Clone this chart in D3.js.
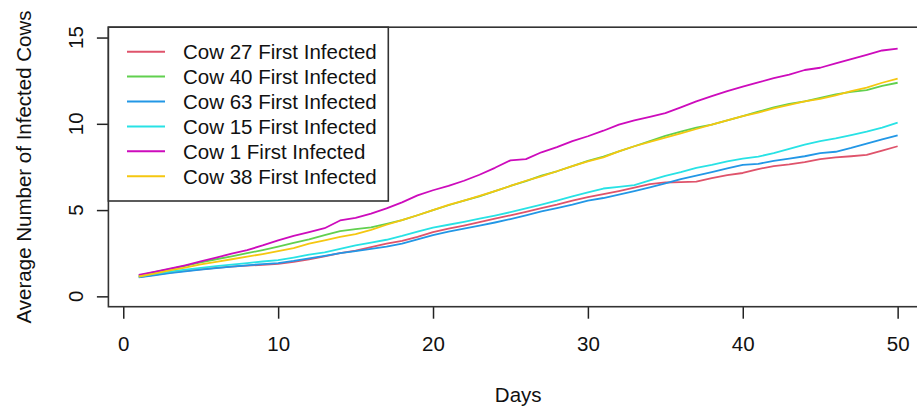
<!DOCTYPE html>
<html>
<head>
<meta charset="utf-8">
<script src="https://cdn.jsdelivr.net/npm/d3@7"></script>
<style>
  html, body { margin: 0; padding: 0; background: #fff; }
  svg { display: block; }
  text { font-family: "Liberation Sans", Arial, Helvetica, sans-serif; fill: #111; }
</style>
</head>
<body>
<svg id="chart" width="917" height="409"></svg>
<script>
// Days 1..50
const days = d3.range(1, 51);

// Average number of infected cows per day, by index cow
const cow27 = [1.12,1.25,1.37,1.48,1.57,1.65,1.72,1.78,1.83,1.88,
               2.00,2.15,2.32,2.50,2.65,2.85,3.05,3.22,3.45,3.72,
               3.92,4.10,4.30,4.50,4.70,4.90,5.12,5.32,5.55,5.75,
               5.92,6.10,6.30,6.50,6.60,6.62,6.65,6.85,7.02,7.15,
               7.38,7.55,7.65,7.78,7.95,8.05,8.12,8.20,8.45,8.70];
const cow40 = [1.20,1.40,1.58,1.77,1.97,2.15,2.32,2.50,2.68,2.88,
               3.10,3.30,3.55,3.78,3.90,4.00,4.20,4.42,4.70,5.00,
               5.28,5.55,5.80,6.10,6.40,6.68,7.00,7.25,7.55,7.85,
               8.10,8.40,8.70,9.00,9.30,9.55,9.78,9.95,10.20,10.45,
               10.70,10.95,11.15,11.30,11.50,11.70,11.85,11.95,12.20,12.38];
const cow63 = [1.10,1.22,1.34,1.45,1.55,1.64,1.72,1.80,1.87,1.93,
               2.05,2.20,2.35,2.50,2.62,2.75,2.88,3.05,3.30,3.55,
               3.75,3.92,4.10,4.28,4.48,4.70,4.92,5.12,5.32,5.55,
               5.70,5.90,6.10,6.32,6.55,6.80,7.00,7.20,7.42,7.62,
               7.68,7.85,7.98,8.12,8.30,8.38,8.60,8.85,9.10,9.33];
const cow15 = [1.15,1.30,1.43,1.55,1.65,1.75,1.84,1.93,2.02,2.10,
               2.25,2.42,2.55,2.75,2.95,3.12,3.28,3.50,3.75,3.98,
               4.15,4.32,4.50,4.68,4.88,5.10,5.32,5.55,5.80,6.02,
               6.25,6.35,6.45,6.72,6.98,7.20,7.45,7.62,7.82,7.98,
               8.10,8.30,8.55,8.80,9.00,9.15,9.35,9.55,9.78,10.07];
const cow1  = [1.25,1.42,1.60,1.80,2.02,2.25,2.47,2.68,2.95,3.25,
               3.50,3.72,3.95,4.40,4.55,4.80,5.10,5.45,5.85,6.15,
               6.40,6.70,7.05,7.45,7.88,7.95,8.35,8.65,9.00,9.28,
               9.60,9.95,10.20,10.40,10.62,10.95,11.30,11.60,11.90,12.15,
               12.40,12.65,12.85,13.12,13.25,13.50,13.75,14.00,14.25,14.36];
const cow38 = [1.15,1.32,1.50,1.67,1.85,2.00,2.15,2.30,2.45,2.62,
               2.80,3.05,3.25,3.45,3.60,3.85,4.15,4.42,4.70,5.00,
               5.30,5.55,5.82,6.10,6.40,6.70,6.95,7.25,7.55,7.82,
               8.05,8.40,8.70,8.95,9.20,9.45,9.70,9.95,10.20,10.45,
               10.65,10.90,11.10,11.30,11.45,11.65,11.90,12.10,12.38,12.62];

const seriesNames  = ["Cow 27 First Infected", "Cow 40 First Infected", "Cow 63 First Infected",
                      "Cow 15 First Infected", "Cow 1 First Infected", "Cow 38 First Infected"];
const seriesValues = [cow27, cow40, cow63, cow15, cow1, cow38];
const seriesColors = ["#DF536B", "#61D04F", "#2297E6", "#28E2E5", "#CD0BBC", "#F5C710"];

const xTicks = [0, 10, 20, 30, 40, 50];
const yTicks = [0, 5, 10, 15];

const svg = d3.select("#chart");

// Plot region (R-style 4% padding around the data ranges)
const plotLeft = 108.4, plotRight = 928, plotTop = 27.2, plotBottom = 306.7;
const x = d3.scaleLinear().domain([-0.96, 51.96]).range([plotLeft, plotRight]);
const y = d3.scaleLinear().domain([-0.6, 15.6]).range([plotBottom, plotTop]);

const fontSize = 20.5;

// Series lines
const line = d3.line().x((d, i) => x(days[i])).y(d => y(d));
svg.append("g")
  .selectAll("path")
  .data(seriesValues)
  .join("path")
  .attr("d", d => line(d))
  .attr("fill", "none")
  .attr("stroke", (d, i) => seriesColors[i])
  .attr("stroke-width", 1.8)
  .attr("stroke-linejoin", "round");

// X axis (ticks hang below the frame)
const xAxis = svg.append("g")
  .attr("transform", `translate(0,${plotBottom})`)
  .call(d3.axisBottom(x).tickValues(xTicks).tickSize(12).tickPadding(18).tickFormat(d3.format("d")));
xAxis.select(".domain").remove();
xAxis.selectAll("line").attr("stroke", "#222").attr("stroke-width", 1.5);
xAxis.selectAll("text").attr("font-size", fontSize).style("font-family", "Liberation Sans, Arial, sans-serif").attr("fill", "#111");

// Y axis with vertical tick labels
const yAxis = svg.append("g")
  .attr("transform", `translate(${plotLeft},0)`)
  .call(d3.axisLeft(y).tickValues(yTicks).tickSize(11.5).tickFormat(""));
yAxis.select(".domain").remove();
yAxis.selectAll("line").attr("stroke", "#222").attr("stroke-width", 1.5);
svg.append("g")
  .selectAll("text")
  .data(yTicks)
  .join("text")
  .attr("transform", d => `translate(83,${y(d)}) rotate(-90)`)
  .attr("text-anchor", "middle")
  .attr("font-size", fontSize)
  .text(d => d);

// Frame around the plot region
svg.append("rect")
  .attr("x", plotLeft).attr("y", plotTop)
  .attr("width", plotRight - plotLeft).attr("height", plotBottom - plotTop)
  .attr("fill", "none").attr("stroke", "#333").attr("stroke-width", 1.6);

// Axis titles
svg.append("text")
  .attr("x", (plotLeft + plotRight) / 2).attr("y", 402)
  .attr("text-anchor", "middle")
  .attr("font-size", fontSize)
  .text("Days");
svg.append("text")
  .attr("transform", `translate(31,${(plotTop + plotBottom) / 2}) rotate(-90)`)
  .attr("text-anchor", "middle")
  .attr("font-size", fontSize)
  .text("Average Number of Infected Cows");

// Legend
const legend = svg.append("g");
legend.append("rect")
  .attr("x", plotLeft).attr("y", plotTop)
  .attr("width", 388.3 - plotLeft).attr("height", 201 - plotTop)
  .attr("fill", "#fff").attr("stroke", "#333").attr("stroke-width", 1.6);
const rowY = i => 51.7 + i * 24.9;
legend.selectAll("line")
  .data(seriesNames)
  .join("line")
  .attr("x1", 127).attr("x2", 165)
  .attr("y1", (d, i) => rowY(i)).attr("y2", (d, i) => rowY(i))
  .attr("stroke", (d, i) => seriesColors[i])
  .attr("stroke-width", 2);
legend.selectAll("text")
  .data(seriesNames)
  .join("text")
  .attr("x", 183)
  .attr("y", (d, i) => rowY(i) + 7.4)
  .attr("font-size", fontSize)
  .text(d => d);
</script>
</body>
</html>
